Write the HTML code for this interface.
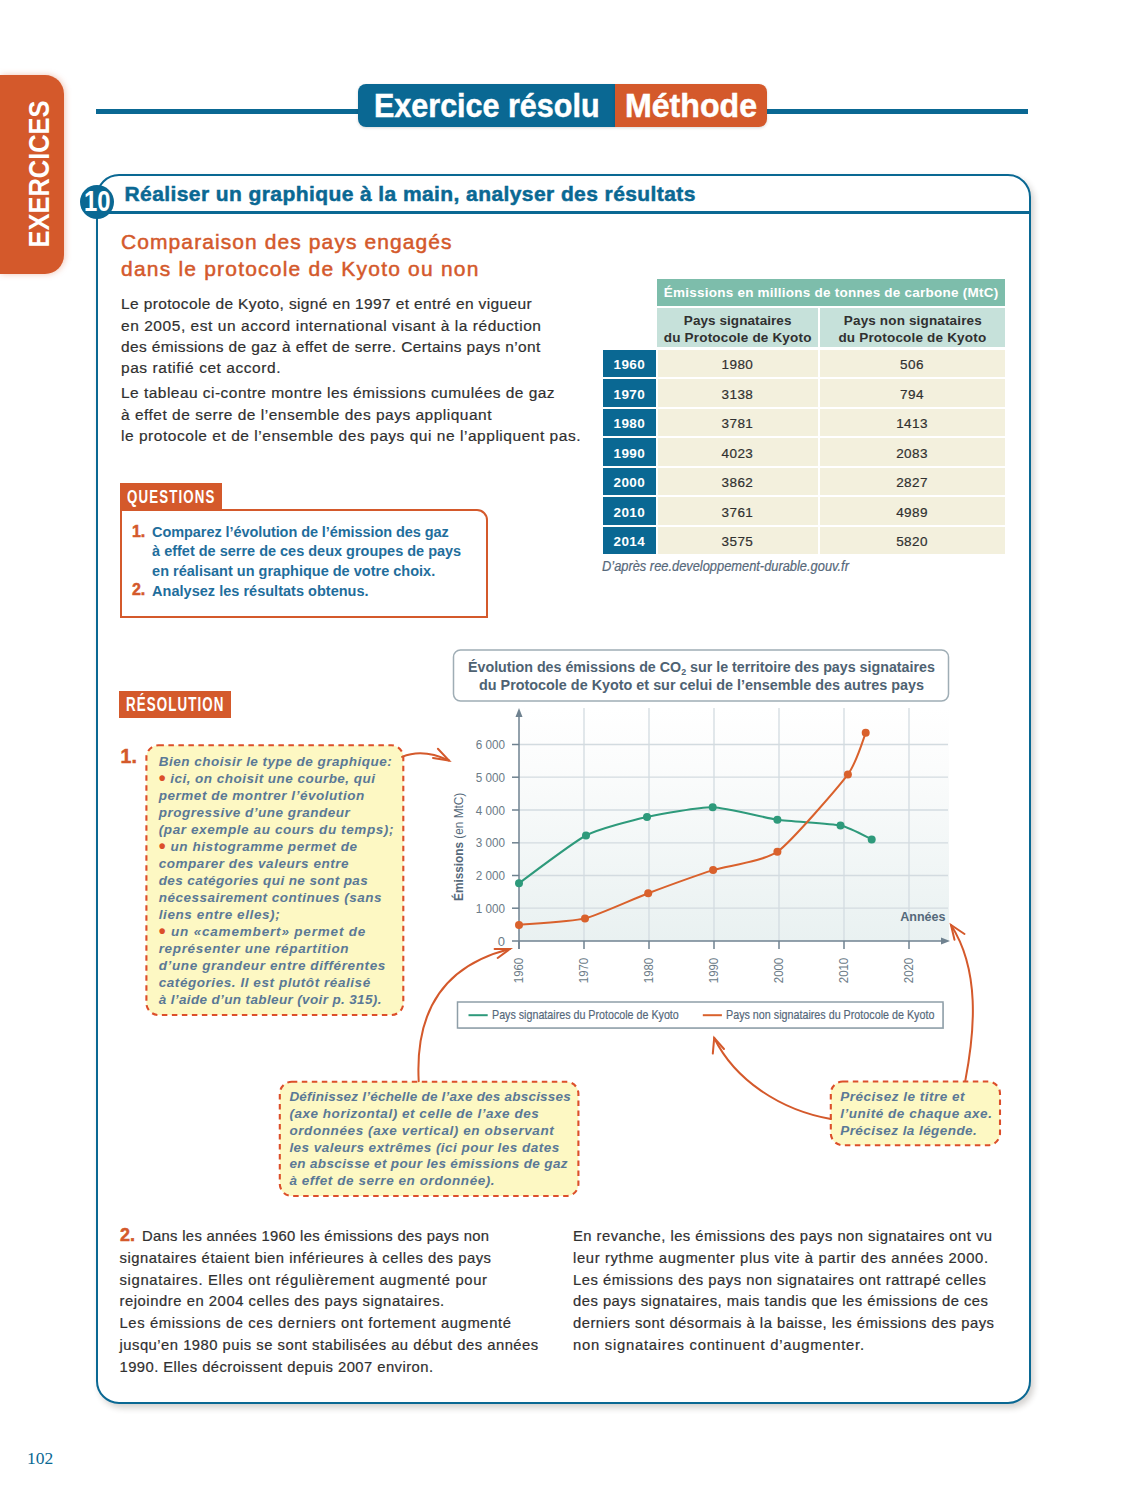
<!DOCTYPE html>
<html><head><meta charset="utf-8">
<style>
*{margin:0;padding:0;box-sizing:border-box}
html,body{width:1125px;height:1500px;overflow:hidden;background:#fff}
body{position:relative;font-family:"Liberation Sans",sans-serif;color:#2d2d2d}
.a{position:absolute;white-space:nowrap}
.ln{position:absolute;white-space:nowrap;line-height:1}
.dot{color:#dc4f2a;font-style:normal;font-size:1.45em;line-height:0;position:relative;top:2.5px}
.sk{-webkit-text-stroke:0.2px currentColor}
.sk2{-webkit-text-stroke:0.5px currentColor}
.yr{position:absolute;left:603px;width:52.5px;height:27.5px;background:#0a6893}
.dc{position:absolute;height:27.5px;background:#f3f0dd}
</style></head><body>

<div class="a" style="left:0;top:75px;width:64px;height:199px;background:#d4592b;border-radius:0 19px 19px 0;box-shadow:1px 0 6px rgba(212,89,43,0.35)"></div>
<div class="ln" id="tab" style="left:38.5px;top:174px;font-size:30px;font-weight:bold;color:#fff;transform:translate(-50%,-50%) rotate(-90deg) scaleX(0.848);">EXERCICES</div>
<div class="a" style="left:96px;top:109px;width:932px;height:5px;background:#0a6893"></div>
<div class="a" style="left:358px;top:84px;width:256.5px;height:43px;background:#0a6893;border-radius:8px 0 0 8px;box-shadow:0 1px 3px rgba(0,0,0,0.15)"></div>
<div class="a" style="left:614.5px;top:84px;width:152.5px;height:43px;background:#d4592b;border-radius:0 8px 8px 0;box-shadow:0 1px 3px rgba(0,0,0,0.15)"></div>
<div class="a" style="left:96px;top:173.5px;width:935px;height:1230.5px;border:2.5px solid #0a6893;border-radius:23px;box-shadow:3px 4px 6px rgba(40,30,20,0.2);background:#fff"></div>
<div class="a" style="left:97px;top:211px;width:933px;height:2.5px;background:#0a6893"></div>
<div class="a" style="left:80px;top:185px;width:34px;height:34px;border-radius:50%;background:#0a6893"></div>
<div class="a" style="left:120px;top:482.5px;width:101.5px;height:26.5px;background:#d4592b"></div>
<div class="a" style="left:119.5px;top:509px;width:368px;height:108.5px;border:2px solid #d4592b;border-radius:0 11px 0 0"></div>
<div class="a" style="left:657px;top:279px;width:347.5px;height:26.5px;background:#7dbdab"></div>
<div class="a" style="left:657px;top:307.5px;width:160.5px;height:39.5px;background:#c6e1da"></div>
<div class="a" style="left:819.5px;top:307.5px;width:185px;height:39.5px;background:#c6e1da"></div>
<div class="yr" style="top:349.60px"></div><div class="dc" style="left:657.5px;width:160px;top:349.60px"></div><div class="dc" style="left:819.5px;width:185px;top:349.60px"></div>
<div class="yr" style="top:379.15px"></div><div class="dc" style="left:657.5px;width:160px;top:379.15px"></div><div class="dc" style="left:819.5px;width:185px;top:379.15px"></div>
<div class="yr" style="top:408.70px"></div><div class="dc" style="left:657.5px;width:160px;top:408.70px"></div><div class="dc" style="left:819.5px;width:185px;top:408.70px"></div>
<div class="yr" style="top:438.25px"></div><div class="dc" style="left:657.5px;width:160px;top:438.25px"></div><div class="dc" style="left:819.5px;width:185px;top:438.25px"></div>
<div class="yr" style="top:467.80px"></div><div class="dc" style="left:657.5px;width:160px;top:467.80px"></div><div class="dc" style="left:819.5px;width:185px;top:467.80px"></div>
<div class="yr" style="top:497.35px"></div><div class="dc" style="left:657.5px;width:160px;top:497.35px"></div><div class="dc" style="left:819.5px;width:185px;top:497.35px"></div>
<div class="yr" style="top:526.90px"></div><div class="dc" style="left:657.5px;width:160px;top:526.90px"></div><div class="dc" style="left:819.5px;width:185px;top:526.90px"></div>
<div class="a" style="left:119px;top:691px;width:112px;height:26.5px;background:#d4592b"></div>
<svg class="a" style="left:0;top:0" width="1125" height="1500" viewBox="0 0 1125 1500">
<defs><linearGradient id="bg" x1="0" y1="0" x2="0" y2="1"><stop offset="0" stop-color="#ffffff"/><stop offset="0.25" stop-color="#fbfcfc"/><stop offset="1" stop-color="#e9f1f1"/></linearGradient></defs>
<rect x="453.5" y="650" width="495" height="51" rx="7" fill="#fff" stroke="#9fadb5" stroke-width="1.5"/>
<rect x="519" y="708" width="430" height="233" fill="url(#bg)"/>
<line x1="584.0" y1="708" x2="584.0" y2="941" stroke="#d3dbe0" stroke-width="1.3"/>
<line x1="649.0" y1="708" x2="649.0" y2="941" stroke="#d3dbe0" stroke-width="1.3"/>
<line x1="714.0" y1="708" x2="714.0" y2="941" stroke="#d3dbe0" stroke-width="1.3"/>
<line x1="779.0" y1="708" x2="779.0" y2="941" stroke="#d3dbe0" stroke-width="1.3"/>
<line x1="844.0" y1="708" x2="844.0" y2="941" stroke="#d3dbe0" stroke-width="1.3"/>
<line x1="909.0" y1="708" x2="909.0" y2="941" stroke="#d3dbe0" stroke-width="1.3"/>
<line x1="519" y1="908.2" x2="948" y2="908.2" stroke="#d3dbe0" stroke-width="1.3"/>
<line x1="512" y1="908.2" x2="519" y2="908.2" stroke="#6f8290" stroke-width="1.5"/>
<text transform="translate(505,912.8) scale(0.9,1)" text-anchor="end" font-family="Liberation Sans" font-size="13" fill="#6b7b87">1 000</text>
<line x1="519" y1="875.5" x2="948" y2="875.5" stroke="#d3dbe0" stroke-width="1.3"/>
<line x1="512" y1="875.5" x2="519" y2="875.5" stroke="#6f8290" stroke-width="1.5"/>
<text transform="translate(505,880.0) scale(0.9,1)" text-anchor="end" font-family="Liberation Sans" font-size="13" fill="#6b7b87">2 000</text>
<line x1="519" y1="842.8" x2="948" y2="842.8" stroke="#d3dbe0" stroke-width="1.3"/>
<line x1="512" y1="842.8" x2="519" y2="842.8" stroke="#6f8290" stroke-width="1.5"/>
<text transform="translate(505,847.2) scale(0.9,1)" text-anchor="end" font-family="Liberation Sans" font-size="13" fill="#6b7b87">3 000</text>
<line x1="519" y1="810.0" x2="948" y2="810.0" stroke="#d3dbe0" stroke-width="1.3"/>
<line x1="512" y1="810.0" x2="519" y2="810.0" stroke="#6f8290" stroke-width="1.5"/>
<text transform="translate(505,814.5) scale(0.9,1)" text-anchor="end" font-family="Liberation Sans" font-size="13" fill="#6b7b87">4 000</text>
<line x1="519" y1="777.2" x2="948" y2="777.2" stroke="#d3dbe0" stroke-width="1.3"/>
<line x1="512" y1="777.2" x2="519" y2="777.2" stroke="#6f8290" stroke-width="1.5"/>
<text transform="translate(505,781.8) scale(0.9,1)" text-anchor="end" font-family="Liberation Sans" font-size="13" fill="#6b7b87">5 000</text>
<line x1="519" y1="744.5" x2="948" y2="744.5" stroke="#d3dbe0" stroke-width="1.3"/>
<line x1="512" y1="744.5" x2="519" y2="744.5" stroke="#6f8290" stroke-width="1.5"/>
<text transform="translate(505,749.0) scale(0.9,1)" text-anchor="end" font-family="Liberation Sans" font-size="13" fill="#6b7b87">6 000</text>
<text x="505" y="945.5" text-anchor="end" font-family="Liberation Sans" font-size="13" fill="#6b7b87">0</text>
<line x1="512" y1="941" x2="942" y2="941" stroke="#6f8290" stroke-width="1.5"/>
<path d="M941,937.5 L950,941 L941,944.5 Z" fill="#6f8290"/>
<line x1="519" y1="949" x2="519" y2="716" stroke="#6f8290" stroke-width="1.5"/>
<path d="M515.5,717 L519,708 L522.5,717 Z" fill="#6f8290"/>
<line x1="519.0" y1="941" x2="519.0" y2="949" stroke="#6f8290" stroke-width="1.5"/>
<text transform="translate(523.2,970.5) rotate(-90) scale(0.88,1)" text-anchor="middle" font-family="Liberation Sans" font-size="13" fill="#6b7b87">1960</text>
<line x1="584.0" y1="941" x2="584.0" y2="949" stroke="#6f8290" stroke-width="1.5"/>
<text transform="translate(588.2,970.5) rotate(-90) scale(0.88,1)" text-anchor="middle" font-family="Liberation Sans" font-size="13" fill="#6b7b87">1970</text>
<line x1="649.0" y1="941" x2="649.0" y2="949" stroke="#6f8290" stroke-width="1.5"/>
<text transform="translate(653.2,970.5) rotate(-90) scale(0.88,1)" text-anchor="middle" font-family="Liberation Sans" font-size="13" fill="#6b7b87">1980</text>
<line x1="714.0" y1="941" x2="714.0" y2="949" stroke="#6f8290" stroke-width="1.5"/>
<text transform="translate(718.2,970.5) rotate(-90) scale(0.88,1)" text-anchor="middle" font-family="Liberation Sans" font-size="13" fill="#6b7b87">1990</text>
<line x1="779.0" y1="941" x2="779.0" y2="949" stroke="#6f8290" stroke-width="1.5"/>
<text transform="translate(783.2,970.5) rotate(-90) scale(0.88,1)" text-anchor="middle" font-family="Liberation Sans" font-size="13" fill="#6b7b87">2000</text>
<line x1="844.0" y1="941" x2="844.0" y2="949" stroke="#6f8290" stroke-width="1.5"/>
<text transform="translate(848.2,970.5) rotate(-90) scale(0.88,1)" text-anchor="middle" font-family="Liberation Sans" font-size="13" fill="#6b7b87">2010</text>
<line x1="909.0" y1="941" x2="909.0" y2="949" stroke="#6f8290" stroke-width="1.5"/>
<text transform="translate(913.2,970.5) rotate(-90) scale(0.88,1)" text-anchor="middle" font-family="Liberation Sans" font-size="13" fill="#6b7b87">2020</text>
<text transform="translate(945.5,920.8) scale(0.93,1)" text-anchor="end" font-family="Liberation Sans" font-weight="bold" font-size="13.5" fill="#55697a">Années</text>
<text transform="translate(463,901) rotate(-90) scale(0.91,1)" font-family="Liberation Sans" font-size="13" fill="#55697a"><tspan font-weight="bold">Émissions</tspan> (en MtC)</text>
<path d="M519.0,883.2 C525.7,878.4 573.2,842.1 586.0,835.5 C598.8,828.9 634.3,819.8 647.0,817.0 C659.7,814.2 699.7,806.9 712.7,807.2 C725.7,807.5 764.6,817.9 777.4,819.7 C790.2,821.5 831.1,823.5 840.5,825.5 C849.9,827.5 868.6,838.0 871.7,839.4" fill="none" stroke="#2e9a7b" stroke-width="2"/>
<path d="M519.0,924.9 C525.6,924.2 572.1,921.6 585.0,918.4 C597.9,915.2 635.4,898.0 648.2,893.2 C661.0,888.4 700.2,874.2 713.1,870.1 C726.0,866.0 763.9,861.4 777.4,851.8 C790.9,842.2 839.1,786.3 847.9,774.4 C856.7,762.5 863.9,737.0 865.7,732.8" fill="none" stroke="#d9612c" stroke-width="2"/>
<circle cx="519" cy="883.2" r="4" fill="#2e9a7b"/>
<circle cx="586" cy="835.5" r="4" fill="#2e9a7b"/>
<circle cx="647" cy="817" r="4" fill="#2e9a7b"/>
<circle cx="712.7" cy="807.2" r="4" fill="#2e9a7b"/>
<circle cx="777.4" cy="819.7" r="4" fill="#2e9a7b"/>
<circle cx="840.5" cy="825.5" r="4" fill="#2e9a7b"/>
<circle cx="871.7" cy="839.4" r="4" fill="#2e9a7b"/>
<circle cx="519" cy="924.9" r="4" fill="#d9612c"/>
<circle cx="585" cy="918.4" r="4" fill="#d9612c"/>
<circle cx="648.2" cy="893.2" r="4" fill="#d9612c"/>
<circle cx="713.1" cy="870.1" r="4" fill="#d9612c"/>
<circle cx="777.4" cy="851.8" r="4" fill="#d9612c"/>
<circle cx="847.9" cy="774.4" r="4" fill="#d9612c"/>
<circle cx="865.7" cy="732.8" r="4" fill="#d9612c"/>
<rect x="458.5" y="1003" width="485.5" height="26" fill="#c9d0d4"/><rect x="457.5" y="1002" width="485.5" height="26" fill="#fff" stroke="#8e9ea8" stroke-width="1.5"/>
<line x1="468.5" y1="1015.2" x2="487.7" y2="1015.2" stroke="#2e9a7b" stroke-width="2"/>
<line x1="702.8" y1="1015.2" x2="721.9" y2="1015.2" stroke="#d9612c" stroke-width="2"/>
<rect x="146.4" y="745.3" width="256.9" height="269.7" rx="12" fill="#fdf8c3" stroke="#dc4f2a" stroke-width="2.1" stroke-dasharray="5.5,4.5"/>
<rect x="279.8" y="1081.8" width="298.6" height="114.2" rx="12" fill="#fdf8c3" stroke="#dc4f2a" stroke-width="2.1" stroke-dasharray="5.5,4.5"/>
<rect x="830.8" y="1081.5" width="169.2" height="63.7" rx="12" fill="#fdf8c3" stroke="#dc4f2a" stroke-width="2.1" stroke-dasharray="5.5,4.5"/>
<path d="M402,756.8 Q423,748 449,760.5" stroke="#d4592b" stroke-width="2" fill="none" stroke-linecap="round"/><path d="M437.9,748.7 L449,760.5 L433,758" stroke="#d4592b" stroke-width="2" fill="none" stroke-linecap="round"/>
<path d="M418.7,1081.2 C415,1010 445,965 510,948.9" stroke="#d4592b" stroke-width="2" fill="none" stroke-linecap="round"/><path d="M494.6,948.9 L510,948.9 L497.7,958" stroke="#d4592b" stroke-width="2" fill="none" stroke-linecap="round"/>
<path d="M830.8,1119 C780,1110 735,1080 714.2,1038" stroke="#d4592b" stroke-width="2" fill="none" stroke-linecap="round"/><path d="M712.8,1053.6 L714.2,1038 L724,1049" stroke="#d4592b" stroke-width="2" fill="none" stroke-linecap="round"/>
<path d="M965.3,1080.6 C975,1030 980,970 951,925" stroke="#d4592b" stroke-width="2" fill="none" stroke-linecap="round"/><path d="M964.5,934 L951,925 L954.5,939.8" stroke="#d4592b" stroke-width="2" fill="none" stroke-linecap="round"/>
</svg>
<div class="ln sk2" id="title" style="top:183.22px;font-size:21px;font-weight:bold;font-style:normal;color:#0a6893;letter-spacing:0.414px;left:124.50px;">Réaliser un graphique à la main, analyser des résultats</div>
<div class="ln sk2" id="sub1" style="top:231.22px;font-size:21px;font-weight:normal;font-style:normal;color:#d4592b;letter-spacing:1.089px;left:121.00px;">Comparaison des pays engagés</div>
<div class="ln sk2" id="sub2" style="top:258.02px;font-size:21px;font-weight:normal;font-style:normal;color:#d4592b;letter-spacing:1.208px;left:121.00px;">dans le protocole de Kyoto ou non</div>
<div class="ln sk" id="in0" style="top:296.48px;font-size:15.5px;font-weight:normal;font-style:normal;color:#303030;letter-spacing:0.368px;left:121.00px;">Le protocole de Kyoto, signé en 1997 et entré en vigueur</div>
<div class="ln sk" id="in1" style="top:317.88px;font-size:15.5px;font-weight:normal;font-style:normal;color:#303030;letter-spacing:0.550px;left:121.00px;">en 2005, est un accord international visant à la réduction</div>
<div class="ln sk" id="in2" style="top:339.08px;font-size:15.5px;font-weight:normal;font-style:normal;color:#303030;letter-spacing:0.364px;left:121.00px;">des émissions de gaz à effet de serre. Certains pays n’ont</div>
<div class="ln sk" id="in3" style="top:360.48px;font-size:15.5px;font-weight:normal;font-style:normal;color:#303030;letter-spacing:0.553px;left:121.00px;">pas ratifié cet accord.</div>
<div class="ln sk" id="in4" style="top:385.38px;font-size:15.5px;font-weight:normal;font-style:normal;color:#303030;letter-spacing:0.466px;left:121.00px;">Le tableau ci-contre montre les émissions cumulées de gaz</div>
<div class="ln sk" id="in5" style="top:406.88px;font-size:15.5px;font-weight:normal;font-style:normal;color:#303030;letter-spacing:0.498px;left:121.00px;">à effet de serre de l’ensemble des pays appliquant</div>
<div class="ln sk" id="in6" style="top:428.38px;font-size:15.5px;font-weight:normal;font-style:normal;color:#303030;letter-spacing:0.532px;left:121.00px;">le protocole et de l’ensemble des pays qui ne l’appliquent pas.</div>
<div class="ln " id="q0" style="top:525.23px;font-size:14.5px;font-weight:bold;font-style:normal;color:#1f6e9c;letter-spacing:-0.077px;left:152.10px;">Comparez l’évolution de l’émission des gaz</div>
<div class="ln " id="q1" style="top:544.43px;font-size:14.5px;font-weight:bold;font-style:normal;color:#1f6e9c;letter-spacing:-0.009px;left:152.10px;">à effet de serre de ces deux groupes de pays</div>
<div class="ln " id="q2" style="top:564.03px;font-size:14.5px;font-weight:bold;font-style:normal;color:#1f6e9c;letter-spacing:0.007px;left:152.10px;">en réalisant un graphique de votre choix.</div>
<div class="ln " id="q3" style="top:583.63px;font-size:14.5px;font-weight:bold;font-style:normal;color:#1f6e9c;letter-spacing:0.018px;left:152.10px;">Analysez les résultats obtenus.</div>
<div class="ln sk2" id="qn1" style="top:523.96px;font-size:16px;font-weight:bold;font-style:normal;color:#d4592b;left:131.90px;">1.</div>
<div class="ln sk2" id="qn2" style="top:582.36px;font-size:16px;font-weight:bold;font-style:normal;color:#d4592b;left:131.90px;">2.</div>
<div class="ln sk" id="src" style="top:559.15px;font-size:14px;font-weight:normal;font-style:italic;color:#56687a;left:602.00px;transform-origin:0 0;transform:scaleX(0.9179);">D’après ree.developpement-durable.gouv.fr</div>
<div class="ln " id="ct1" style="top:659.63px;font-size:14.5px;font-weight:bold;font-style:normal;color:#4e6272;left:468.40px;transform-origin:0 0;transform:scaleX(0.9833);">Évolution des émissions de CO<span style="font-size:9px;position:relative;top:3px">2</span> sur le territoire des pays signataires</div>
<div class="ln " id="ct2" style="top:678.13px;font-size:14.5px;font-weight:bold;font-style:normal;color:#4e6272;left:478.80px;transform-origin:0 0;transform:scaleX(0.9915);">du Protocole de Kyoto et sur celui de l’ensemble des autres pays</div>
<div class="ln " id="ya0" style="top:754.57px;font-size:13.5px;font-weight:bold;font-style:italic;color:#5a7896;letter-spacing:0.494px;left:158.70px;">Bien choisir le type de graphique:</div>
<div class="ln " id="ya1" style="top:771.57px;font-size:13.5px;font-weight:bold;font-style:italic;color:#5a7896;letter-spacing:0.474px;left:158.70px;"><span class="dot">•</span> ici, on choisit une courbe, qui</div>
<div class="ln " id="ya2" style="top:788.57px;font-size:13.5px;font-weight:bold;font-style:italic;color:#5a7896;letter-spacing:0.535px;left:158.70px;">permet de montrer l’évolution</div>
<div class="ln " id="ya3" style="top:805.57px;font-size:13.5px;font-weight:bold;font-style:italic;color:#5a7896;letter-spacing:0.502px;left:158.70px;">progressive d’une grandeur</div>
<div class="ln " id="ya4" style="top:822.57px;font-size:13.5px;font-weight:bold;font-style:italic;color:#5a7896;letter-spacing:0.604px;left:158.70px;">(par exemple au cours du temps);</div>
<div class="ln " id="ya5" style="top:839.57px;font-size:13.5px;font-weight:bold;font-style:italic;color:#5a7896;letter-spacing:0.576px;left:158.70px;"><span class="dot">•</span> un histogramme permet de</div>
<div class="ln " id="ya6" style="top:856.57px;font-size:13.5px;font-weight:bold;font-style:italic;color:#5a7896;letter-spacing:0.542px;left:158.70px;">comparer des valeurs entre</div>
<div class="ln " id="ya7" style="top:873.57px;font-size:13.5px;font-weight:bold;font-style:italic;color:#5a7896;letter-spacing:0.406px;left:158.70px;">des catégories qui ne sont pas</div>
<div class="ln " id="ya8" style="top:890.57px;font-size:13.5px;font-weight:bold;font-style:italic;color:#5a7896;letter-spacing:0.490px;left:158.70px;">nécessairement continues (sans</div>
<div class="ln " id="ya9" style="top:907.57px;font-size:13.5px;font-weight:bold;font-style:italic;color:#5a7896;letter-spacing:0.595px;left:158.70px;">liens entre elles);</div>
<div class="ln " id="ya10" style="top:924.57px;font-size:13.5px;font-weight:bold;font-style:italic;color:#5a7896;letter-spacing:0.820px;left:158.70px;"><span class="dot">•</span> un «camembert» permet de</div>
<div class="ln " id="ya11" style="top:941.57px;font-size:13.5px;font-weight:bold;font-style:italic;color:#5a7896;letter-spacing:0.667px;left:158.70px;">représenter une répartition</div>
<div class="ln " id="ya12" style="top:958.57px;font-size:13.5px;font-weight:bold;font-style:italic;color:#5a7896;letter-spacing:0.615px;left:158.70px;">d’une grandeur entre différentes</div>
<div class="ln " id="ya13" style="top:975.57px;font-size:13.5px;font-weight:bold;font-style:italic;color:#5a7896;letter-spacing:0.560px;left:158.70px;">catégories. Il est plutôt réalisé</div>
<div class="ln " id="ya14" style="top:992.57px;font-size:13.5px;font-weight:bold;font-style:italic;color:#5a7896;letter-spacing:0.364px;left:158.70px;">à l’aide d’un tableur (voir p. 315).</div>
<div class="ln " id="yb0" style="top:1090.37px;font-size:13.5px;font-weight:bold;font-style:italic;color:#5a7896;letter-spacing:0.214px;left:289.40px;">Définissez l’échelle de l’axe des abscisses</div>
<div class="ln " id="yb1" style="top:1107.13px;font-size:13.5px;font-weight:bold;font-style:italic;color:#5a7896;letter-spacing:0.535px;left:289.40px;">(axe horizontal) et celle de l’axe des</div>
<div class="ln " id="yb2" style="top:1123.89px;font-size:13.5px;font-weight:bold;font-style:italic;color:#5a7896;letter-spacing:0.592px;left:289.40px;">ordonnées (axe vertical) en observant</div>
<div class="ln " id="yb3" style="top:1140.65px;font-size:13.5px;font-weight:bold;font-style:italic;color:#5a7896;letter-spacing:0.472px;left:289.40px;">les valeurs extrêmes (ici pour les dates</div>
<div class="ln " id="yb4" style="top:1157.41px;font-size:13.5px;font-weight:bold;font-style:italic;color:#5a7896;letter-spacing:0.361px;left:289.40px;">en abscisse et pour les émissions de gaz</div>
<div class="ln " id="yb5" style="top:1174.17px;font-size:13.5px;font-weight:bold;font-style:italic;color:#5a7896;letter-spacing:0.565px;left:289.40px;">à effet de serre en ordonnée).</div>
<div class="ln " id="yc0" style="top:1089.87px;font-size:13.5px;font-weight:bold;font-style:italic;color:#5a7896;letter-spacing:0.505px;left:840.20px;">Précisez le titre et</div>
<div class="ln " id="yc1" style="top:1106.92px;font-size:13.5px;font-weight:bold;font-style:italic;color:#5a7896;letter-spacing:0.543px;left:840.20px;">l’unité de chaque axe.</div>
<div class="ln " id="yc2" style="top:1123.97px;font-size:13.5px;font-weight:bold;font-style:italic;color:#5a7896;letter-spacing:0.435px;left:840.20px;">Précisez la légende.</div>
<div class="ln sk" id="ba0" style="top:1229.07px;font-size:14.8px;font-weight:normal;font-style:normal;color:#303030;letter-spacing:0.319px;left:142.00px;">Dans les années 1960 les émissions des pays non</div>
<div class="ln sk" id="ba1" style="top:1250.84px;font-size:14.8px;font-weight:normal;font-style:normal;color:#303030;letter-spacing:0.538px;left:119.50px;">signataires étaient bien inférieures à celles des pays</div>
<div class="ln sk" id="ba2" style="top:1272.61px;font-size:14.8px;font-weight:normal;font-style:normal;color:#303030;letter-spacing:0.668px;left:119.50px;">signataires. Elles ont régulièrement augmenté pour</div>
<div class="ln sk" id="ba3" style="top:1294.38px;font-size:14.8px;font-weight:normal;font-style:normal;color:#303030;letter-spacing:0.544px;left:119.50px;">rejoindre en 2004 celles des pays signataires.</div>
<div class="ln sk" id="ba4" style="top:1316.15px;font-size:14.8px;font-weight:normal;font-style:normal;color:#303030;letter-spacing:0.613px;left:119.50px;">Les émissions de ces derniers ont fortement augmenté</div>
<div class="ln sk" id="ba5" style="top:1337.92px;font-size:14.8px;font-weight:normal;font-style:normal;color:#303030;letter-spacing:0.490px;left:119.50px;">jusqu’en 1980 puis se sont stabilisées au début des années</div>
<div class="ln sk" id="ba6" style="top:1359.69px;font-size:14.8px;font-weight:normal;font-style:normal;color:#303030;letter-spacing:0.442px;left:119.50px;">1990. Elles décroissent depuis 2007 environ.</div>
<div class="ln sk2" id="b2n" style="top:1226.36px;font-size:18px;font-weight:bold;font-style:normal;color:#d4592b;left:120.00px;">2.</div>
<div class="ln sk" id="bb0" style="top:1229.07px;font-size:14.8px;font-weight:normal;font-style:normal;color:#303030;letter-spacing:0.468px;left:573.00px;">En revanche, les émissions des pays non signataires ont vu</div>
<div class="ln sk" id="bb1" style="top:1250.84px;font-size:14.8px;font-weight:normal;font-style:normal;color:#303030;letter-spacing:0.640px;left:573.00px;">leur rythme augmenter plus vite à partir des années 2000.</div>
<div class="ln sk" id="bb2" style="top:1272.61px;font-size:14.8px;font-weight:normal;font-style:normal;color:#303030;letter-spacing:0.521px;left:573.00px;">Les émissions des pays non signataires ont rattrapé celles</div>
<div class="ln sk" id="bb3" style="top:1294.38px;font-size:14.8px;font-weight:normal;font-style:normal;color:#303030;letter-spacing:0.484px;left:573.00px;">des pays signataires, mais tandis que les émissions de ces</div>
<div class="ln sk" id="bb4" style="top:1316.15px;font-size:14.8px;font-weight:normal;font-style:normal;color:#303030;letter-spacing:0.481px;left:573.00px;">derniers sont désormais à la baisse, les émissions des pays</div>
<div class="ln sk" id="bb5" style="top:1337.92px;font-size:14.8px;font-weight:normal;font-style:normal;color:#303030;letter-spacing:0.752px;left:573.00px;">non signataires continuent d’augmenter.</div>
<div class="ln " id="th0" style="top:285.57px;font-size:13.5px;font-weight:bold;font-style:normal;color:#ffffff;letter-spacing:0.236px;left:831.10px;transform:translateX(-50%);">Émissions en millions de tonnes de carbone (MtC)</div>
<div class="ln " id="th1" style="top:314.37px;font-size:13.5px;font-weight:bold;font-style:normal;color:#303030;letter-spacing:0.068px;left:737.70px;transform:translateX(-50%);">Pays signataires</div>
<div class="ln " id="th2" style="top:330.77px;font-size:13.5px;font-weight:bold;font-style:normal;color:#303030;letter-spacing:0.179px;left:737.70px;transform:translateX(-50%);">du Protocole de Kyoto</div>
<div class="ln " id="th3" style="top:314.37px;font-size:13.5px;font-weight:bold;font-style:normal;color:#303030;letter-spacing:0.149px;left:912.85px;transform:translateX(-50%);">Pays non signataires</div>
<div class="ln " id="th4" style="top:330.77px;font-size:13.5px;font-weight:bold;font-style:normal;color:#303030;letter-spacing:0.189px;left:912.40px;transform:translateX(-50%);">du Protocole de Kyoto</div>
<div class="ln sk" id="lg1" style="top:1007.87px;font-size:13.5px;font-weight:normal;font-style:normal;color:#55687a;left:492.00px;transform-origin:0 0;transform:scaleX(0.7927);">Pays signataires du Protocole de Kyoto</div>
<div class="ln sk" id="lg2" style="top:1007.87px;font-size:13.5px;font-weight:normal;font-style:normal;color:#55687a;left:726.40px;transform-origin:0 0;transform:scaleX(0.7956);">Pays non signataires du Protocole de Kyoto</div>
<div class="ln sk2" id="p1" style="top:90.09px;font-size:32.5px;font-weight:bold;font-style:normal;color:#fff;left:373.50px;transform-origin:0 0;transform:scaleX(0.9386);">Exercice résolu</div>
<div class="ln sk2" id="p2" style="top:90.09px;font-size:32.5px;font-weight:bold;font-style:normal;color:#fff;left:624.90px;transform-origin:0 0;transform:scaleX(0.9879);">Méthode</div>
<div class="ln " id="n10" style="top:187.25px;font-size:29px;font-weight:bold;font-style:normal;color:#fff;left:84.00px;transform-origin:0 0;transform:scaleX(0.8220);">10</div>
<div class="ln " id="qlab" style="top:486.62px;font-size:19px;font-weight:bold;font-style:normal;color:#fff;left:126.80px;transform-origin:0 0;transform:scaleX(0.7006);letter-spacing:1.6px;">QUESTIONS</div>
<div class="ln " id="ty0" style="top:358.07px;font-size:13.5px;font-weight:bold;font-style:normal;color:#ffffff;letter-spacing:0.384px;left:629.30px;transform:translateX(-50%);">1960</div>
<div class="ln sk" id="ta0" style="top:358.07px;font-size:13.5px;font-weight:normal;font-style:normal;color:#303030;letter-spacing:0.384px;left:737.40px;transform:translateX(-50%);">1980</div>
<div class="ln sk" id="tb0" style="top:358.07px;font-size:13.5px;font-weight:normal;font-style:normal;color:#303030;letter-spacing:0.534px;left:912.00px;transform:translateX(-50%);">506</div>
<div class="ln " id="ty1" style="top:387.62px;font-size:13.5px;font-weight:bold;font-style:normal;color:#ffffff;letter-spacing:0.384px;left:629.30px;transform:translateX(-50%);">1970</div>
<div class="ln sk" id="ta1" style="top:387.62px;font-size:13.5px;font-weight:normal;font-style:normal;color:#303030;letter-spacing:0.384px;left:737.40px;transform:translateX(-50%);">3138</div>
<div class="ln sk" id="tb1" style="top:387.62px;font-size:13.5px;font-weight:normal;font-style:normal;color:#303030;letter-spacing:0.534px;left:912.00px;transform:translateX(-50%);">794</div>
<div class="ln " id="ty2" style="top:417.17px;font-size:13.5px;font-weight:bold;font-style:normal;color:#ffffff;letter-spacing:0.384px;left:629.30px;transform:translateX(-50%);">1980</div>
<div class="ln sk" id="ta2" style="top:417.17px;font-size:13.5px;font-weight:normal;font-style:normal;color:#303030;letter-spacing:0.384px;left:737.40px;transform:translateX(-50%);">3781</div>
<div class="ln sk" id="tb2" style="top:417.17px;font-size:13.5px;font-weight:normal;font-style:normal;color:#303030;letter-spacing:0.384px;left:912.00px;transform:translateX(-50%);">1413</div>
<div class="ln " id="ty3" style="top:446.72px;font-size:13.5px;font-weight:bold;font-style:normal;color:#ffffff;letter-spacing:0.384px;left:629.30px;transform:translateX(-50%);">1990</div>
<div class="ln sk" id="ta3" style="top:446.72px;font-size:13.5px;font-weight:normal;font-style:normal;color:#303030;letter-spacing:0.384px;left:737.40px;transform:translateX(-50%);">4023</div>
<div class="ln sk" id="tb3" style="top:446.72px;font-size:13.5px;font-weight:normal;font-style:normal;color:#303030;letter-spacing:0.384px;left:912.00px;transform:translateX(-50%);">2083</div>
<div class="ln " id="ty4" style="top:476.27px;font-size:13.5px;font-weight:bold;font-style:normal;color:#ffffff;letter-spacing:0.384px;left:629.30px;transform:translateX(-50%);">2000</div>
<div class="ln sk" id="ta4" style="top:476.27px;font-size:13.5px;font-weight:normal;font-style:normal;color:#303030;letter-spacing:0.384px;left:737.40px;transform:translateX(-50%);">3862</div>
<div class="ln sk" id="tb4" style="top:476.27px;font-size:13.5px;font-weight:normal;font-style:normal;color:#303030;letter-spacing:0.384px;left:912.00px;transform:translateX(-50%);">2827</div>
<div class="ln " id="ty5" style="top:505.82px;font-size:13.5px;font-weight:bold;font-style:normal;color:#ffffff;letter-spacing:0.384px;left:629.30px;transform:translateX(-50%);">2010</div>
<div class="ln sk" id="ta5" style="top:505.82px;font-size:13.5px;font-weight:normal;font-style:normal;color:#303030;letter-spacing:0.384px;left:737.40px;transform:translateX(-50%);">3761</div>
<div class="ln sk" id="tb5" style="top:505.82px;font-size:13.5px;font-weight:normal;font-style:normal;color:#303030;letter-spacing:0.384px;left:912.00px;transform:translateX(-50%);">4989</div>
<div class="ln " id="ty6" style="top:535.37px;font-size:13.5px;font-weight:bold;font-style:normal;color:#ffffff;letter-spacing:0.384px;left:629.30px;transform:translateX(-50%);">2014</div>
<div class="ln sk" id="ta6" style="top:535.37px;font-size:13.5px;font-weight:normal;font-style:normal;color:#303030;letter-spacing:0.384px;left:737.40px;transform:translateX(-50%);">3575</div>
<div class="ln sk" id="tb6" style="top:535.37px;font-size:13.5px;font-weight:normal;font-style:normal;color:#303030;letter-spacing:0.384px;left:912.00px;transform:translateX(-50%);">5820</div>
<div class="ln " id="rlab" style="top:694.59px;font-size:19.5px;font-weight:bold;font-style:normal;color:#fff;left:125.60px;transform-origin:0 0;transform:scaleX(0.6854);letter-spacing:1.6px;">RÉSOLUTION</div>
<div class="ln sk2" id="r1" style="top:747.49px;font-size:19.5px;font-weight:bold;font-style:normal;color:#d4592b;left:120.60px;">1.</div>
<div class="ln" id="pg" style="left:27px;top:1450.19px;font-family:'Liberation Serif',serif;font-size:17.5px;color:#0a6893">102</div>
</body></html>
